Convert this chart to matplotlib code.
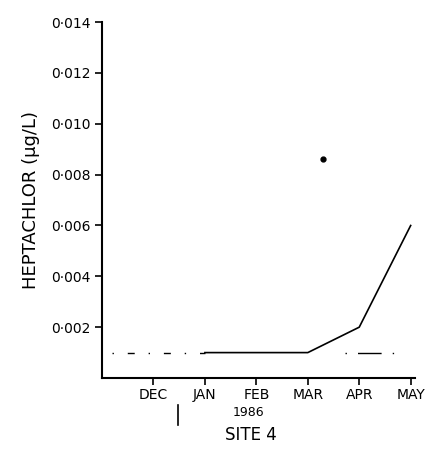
import matplotlib
matplotlib.use('Agg')
import matplotlib.pyplot as plt

# monthly positions on the x axis (0 = origin)
months = ['DEC', 'JAN', 'FEB', 'MAR', 'APR', 'MAY']
month_pos = [1, 2, 3, 4, 5, 6]

# heptachlor measured, JAN..MAY
line_pos = [2, 3, 4, 5, 6]
line_vals = [0.001, 0.001, 0.001, 0.002, 0.006]

# single isolated point between MAR and APR
dot_pos = [4.3]
dot_vals = [0.0086]

# detection-limit dash-dot segments
det_limit = 0.001
det_seg1 = [0.2, 2.0]
det_seg2 = [4.72, 5.8]

yticks = [0.002, 0.004, 0.006, 0.008, 0.010, 0.012, 0.014]
ytick_labels = ['0·002', '0·004', '0·006', '0·008', '0·010', '0·012', '0·014']

fig = plt.figure(figsize=(4.38, 4.61), dpi=100)
ax = fig.add_axes([0.233, 0.18, 0.714, 0.772])

ax.plot(line_pos, line_vals, color='black', lw=1.2)
ax.plot(dot_pos, dot_vals, 'o', color='black', ms=3.5)
ax.plot(det_seg1, [det_limit, det_limit], color='black', lw=1.0,
        linestyle=(0, (1, 10, 5, 10)))
ax.plot(det_seg2, [det_limit, det_limit], color='black', lw=1.0,
        linestyle=(0, (1, 8, 17, 8)))

ax.set_xlim(0, 6.08)
ax.set_ylim(0, 0.014)
ax.set_xticks(month_pos)
ax.set_xticklabels(months, fontsize=10)
ax.set_yticks(yticks)
ax.set_yticklabels(ytick_labels, fontsize=10)
ax.tick_params(direction='out', length=5, width=1.2)
ax.tick_params(axis='x', pad=2)

for s in ['top', 'right']:
    ax.spines[s].set_visible(False)
for s in ['left', 'bottom']:
    ax.spines[s].set_linewidth(1.5)

ax.set_ylabel('HEPTACHLOR (µg/L)', fontsize=13, labelpad=8)

# year separator and annotations below the axis
ax.plot([1.48, 1.48], [-0.076, -0.132], color='black', lw=1.2,
        transform=ax.get_xaxis_transform(), clip_on=False)
ax.text(2.85, -0.098, '1986', transform=ax.get_xaxis_transform(),
        ha='center', va='center', fontsize=9)
ax.text(2.9, -0.16, 'SITE 4', transform=ax.get_xaxis_transform(),
        ha='center', va='center', fontsize=12)

fig.savefig('out.png', dpi=100)
